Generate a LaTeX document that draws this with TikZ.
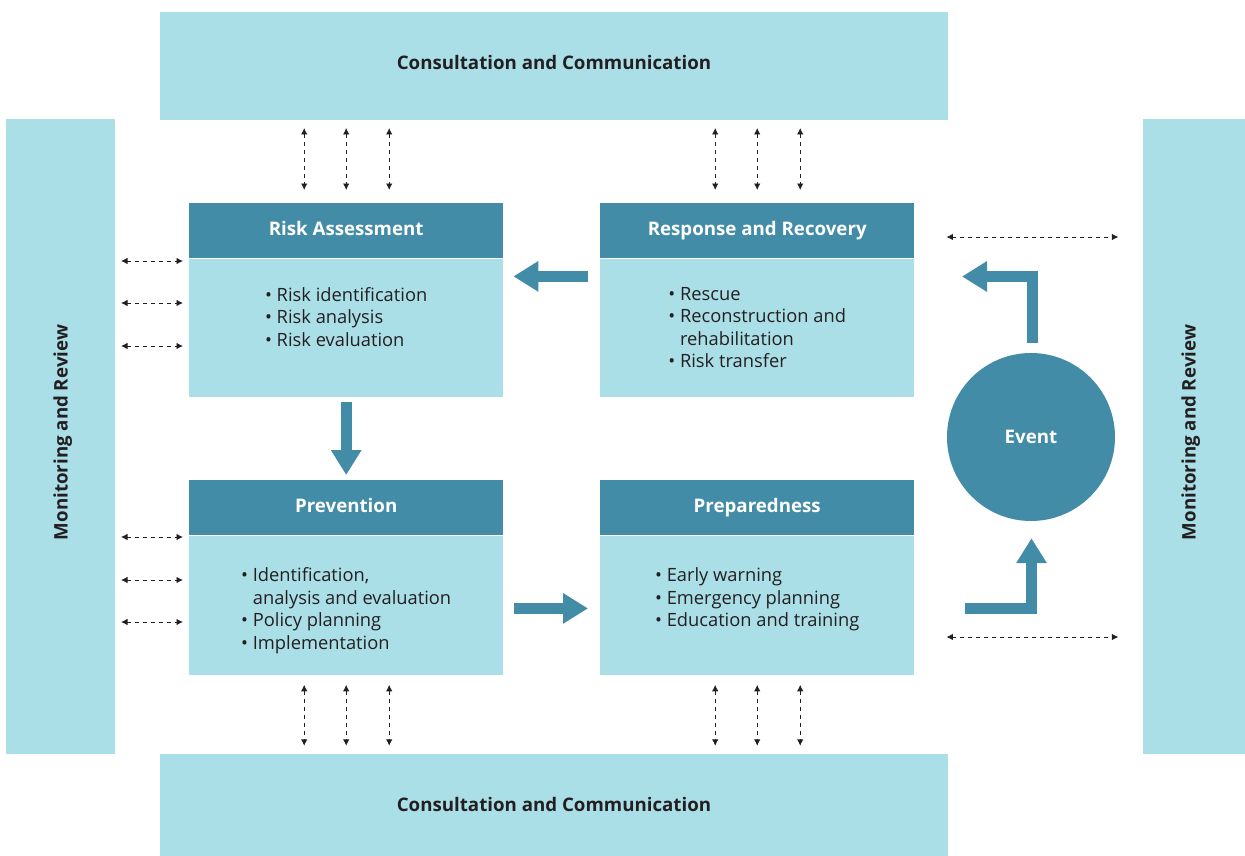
\documentclass[tikz,border=0pt]{standalone}
\usepackage{fontspec}
\setmainfont{Open Sans}
\usetikzlibrary{arrows.meta,calc}
\definecolor{lightb}{HTML}{ABDFE8}
\definecolor{darkteal}{HTML}{428CA8}
\definecolor{ink}{HTML}{231F20}
\tikzset{
  bar/.style={fill=lightb, draw=none, inner sep=0pt},
  bartext/.style={inner sep=0pt, text=ink, text height=13.4pt, text depth=0pt, font=\fontsize{18.7}{22}\selectfont\bfseries},
  hdr/.style={fill=darkteal, draw=none, inner sep=0pt, text=white, minimum width=314pt, minimum height=55pt, text height=13.4pt, text depth=4.6pt, font=\fontsize{18.7}{22}\selectfont\bfseries},
  bodybox/.style={fill=lightb, draw=none, inner sep=0pt, minimum width=314pt, anchor=north},
  bullets/.style={anchor=north, align=left, inner sep=0pt, text=ink, font=\fontsize{18.3}{22.5}\selectfont},
  dasharr/.style={draw=ink, line width=0.9pt, dash pattern=on 4pt off 4pt, {Latex[length=6.5pt,width=6.5pt]}-{Latex[length=6.5pt,width=6.5pt]}},
  bigarr/.style={draw=darkteal, line width=11pt, line join=miter, -{Triangle[length=25pt,width=29pt]}},
}
\newcommand{\bul}{•\ }
\newcommand{\bulsp}{\hphantom{•\ }}
\begin{document}
\begin{tikzpicture}[x=1pt,y=-1pt]
\useasboundingbox (0,0) rectangle (1245,856);
% outer bars
\node[bar, minimum width=788pt, minimum height=108pt] (topbar) at (554,66) {};
\node[bartext] (toptext) at (554,63) {Consultation and Communication};
\node[bar, minimum width=788pt, minimum height=102pt] (botbar) at (554,805) {};
\node[bartext] (bottext) at (554,805) {Consultation and Communication};
\node[bar, minimum width=109pt, minimum height=634pt] (leftbar) at (60.5,436.5) {};
\node[bartext, rotate=90] (lefttext) at (61,432.5) {Monitoring and Review};
\node[bar, minimum width=102pt, minimum height=634pt] (rightbar) at (1194,436.5) {};
\node[bartext, rotate=90] (righttext) at (1189,432.5) {Monitoring and Review};
% boxes
\node[hdr, anchor=north west] (rahead) at (189,203) {Risk Assessment};
\node[bodybox, minimum height=138pt] (rabody) at (rahead.south) {};
\node[bullets] (ratext) at ($(rabody.north)+(0,28.5)$) {\bul Risk identification\\ \bul Risk analysis\\ \bul Risk evaluation};

\node[hdr, anchor=north west] (rrhead) at (600,203) {Response and Recovery};
\node[bodybox, minimum height=138pt] (rrbody) at (rrhead.south) {};
\node[bullets] (rrtext) at ($(rrbody.north)+(0,28.5)$) {\bul Rescue\\ \bul Reconstruction and\\ \bulsp rehabilitation\\ \bul Risk transfer};

\node[hdr, anchor=north west] (prhead) at (189,480) {Prevention};
\node[bodybox, minimum height=139pt] (prbody) at (prhead.south) {};
\node[bullets] (prtext) at ($(prbody.north)+(0,32)$) {\bul Identification,\\ \bulsp analysis and evaluation\\ \bul Policy planning\\ \bul Implementation};

\node[hdr, anchor=north west] (pphead) at (600,480) {Preparedness};
\node[bodybox, minimum height=139pt] (ppbody) at (pphead.south) {};
\node[bullets] (pptext) at ($(ppbody.north)+(0,32)$) {\bul Early warning\\ \bul Emergency planning\\ \bul Education and training};

\node[circle, fill=darkteal, minimum size=168pt, inner sep=0pt, text=white, text height=13.4pt, text depth=0pt, font=\fontsize{18.7}{22}\selectfont\bfseries] (event) at (1031,437) {Event};

% thick arrows
\draw[bigarr] ($(rrbody.north west)+(-12,18)$) -- ($(rabody.north east)+(10,18)$);
\draw[bigarr] ($(rabody.south)+(0,5)$) -- ($(prhead.north)+(0,-5)$);
\draw[bigarr] ($(prbody.north east)+(11,73)$) -- ($(ppbody.north west)+(-12,73)$);
\coordinate (evtop) at ($(event.north)+(1,-10)$);
\coordinate (evbot) at ($(event.south)+(0.5,17)$);
\draw[bigarr] (evtop) -- (evtop |- 0,276.5) -- (962,276.5);
\draw[bigarr] (965,608) -- (evbot |- 0,608) -- (evbot);

% dashed connectors top/bottom
\foreach \dx in {-42,0,43} {
  \draw[dasharr] ($(rahead.north)+(\dx,-75)$) -- ($(rahead.north)+(\dx,-13)$);
  \draw[dasharr] ($(rrhead.north)+(\dx,-75)$) -- ($(rrhead.north)+(\dx,-13)$);
  \draw[dasharr] ($(prbody.south)+(\dx,10)$) -- ($(prbody.south)+(\dx,71)$);
  \draw[dasharr] ($(ppbody.south)+(\dx,10)$) -- ($(ppbody.south)+(\dx,71)$);
}
% dashed connectors left
\foreach \dy in {58,100,143} {
  \draw[dasharr] ($(rahead.north west)+(-68,\dy)$) -- ($(rahead.north west)+(-6,\dy)$);
}
\foreach \dy in {57,100,142} {
  \draw[dasharr] ($(prhead.north west)+(-68,\dy)$) -- ($(prhead.north west)+(-6,\dy)$);
}
% dashed connectors right
\draw[dasharr] ($(rrhead.north east)+(32,34)$) -- ($(rrhead.north east)+(204,34)$);
\draw[dasharr] ($(pphead.north east)+(32,157)$) -- ($(pphead.north east)+(204,157)$);
\end{tikzpicture}
\end{document}
